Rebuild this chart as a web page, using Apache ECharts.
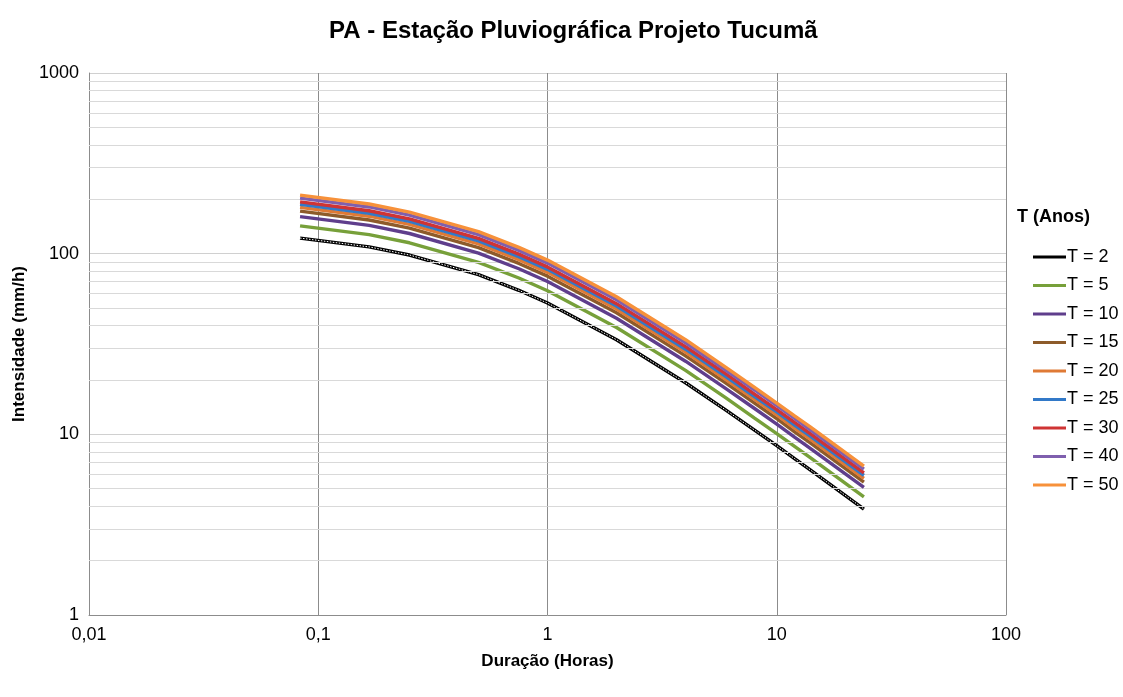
<!DOCTYPE html>
<html>
<head>
<meta charset="utf-8">
<script src="https://cdn.jsdelivr.net/npm/echarts@6/dist/echarts.min.js"></script>
<style>
html,body{margin:0;padding:0;background:#fff;}
#chart{width:1123px;height:697px;}
</style>
</head>
<body>
<div id="chart"></div>
<script>
// Durations (hours)
var durations = [0.0833, 0.1667, 0.25, 0.5, 0.75, 1, 2, 4, 6, 8, 10, 12, 14, 24];
// Intensities (mm/h) per return period
var T2  = [122.0, 109.0, 98.3, 76.6, 62.7, 53.3, 33.4, 19.3, 13.6, 10.56, 8.65, 7.32, 6.36, 3.86];
var T5  = [142.6, 127.4, 114.9, 89.5, 73.3, 62.3, 39.0, 22.6, 15.9, 12.3, 10.1, 8.56, 7.43, 4.51];
var T10 = [160.4, 143.3, 129.3, 100.7, 82.5, 70.1, 43.9, 25.4, 17.9, 13.9, 11.4, 9.63, 8.36, 5.08];
var T15 = [171.9, 153.6, 138.5, 107.9, 88.3, 75.1, 47.1, 27.2, 19.2, 14.9, 12.2, 10.3, 8.96, 5.44];
var T20 = [180.4, 161.2, 145.4, 113.3, 92.7, 78.8, 49.4, 28.5, 20.1, 15.6, 12.8, 10.8, 9.41, 5.71];
var T25 = [187.4, 167.4, 151.0, 117.7, 96.3, 81.9, 51.3, 29.6, 20.9, 16.2, 13.3, 11.2, 9.77, 5.93];
var T30 = [193.4, 172.8, 155.8, 121.4, 99.4, 84.5, 52.9, 30.6, 21.6, 16.7, 13.7, 11.6, 10.08, 6.12];
var T40 = [203.0, 181.4, 163.6, 127.5, 104.3, 88.7, 55.6, 32.1, 22.6, 17.6, 14.4, 12.2, 10.58, 6.42];
var T50 = [210.8, 188.4, 169.9, 132.4, 108.3, 92.1, 57.7, 33.4, 23.5, 18.2, 14.9, 12.6, 10.99, 6.67];
var seriesNames = ['T = 2', 'T = 5', 'T = 10', 'T = 15', 'T = 20', 'T = 25', 'T = 30', 'T = 40', 'T = 50'];
var seriesValues = [T2, T5, T10, T15, T20, T25, T30, T40, T50];
var seriesColors = ['#000000', '#77a03a', '#5f3e8c', '#8d5b2a', '#df7a35', '#3279c8', '#cf3434', '#7f5fae', '#f7913a'];
// Minor horizontal grid values (log axis)
var minorGridY = [2,3,4,5,6,7,8,9,20,30,40,50,60,70,80,90,200,300,400,500,600,700,800,900];

var FONT = 'Liberation Sans, Arial, sans-serif';
function pairs(vals){ return durations.map(function(d,i){ return [d, vals[i]]; }); }

var series = [];
series.push({
  name: '_grid', type: 'line', data: [], silent: true, z: 1,
  markLine: {
    silent: true, symbol: ['none','none'], label: {show:false},
    lineStyle: {color:'#d9d9d9', width:1, type:'solid'},
    animation: false,
    data: minorGridY.map(function(v){ return {yAxis: v}; })
  }
});
seriesNames.forEach(function(n, i){
  series.push({
    name: n, type: 'line', data: pairs(seriesValues[i]),
    showSymbol: false, symbol: 'none', z: 3 + i,
    lineStyle: {color: seriesColors[i], width: 3.4},
    itemStyle: {color: seriesColors[i]}
  });
  if (i === 0) {
    series.push({
      name: '_T2dots', type: 'line', data: pairs(seriesValues[0]),
      showSymbol: false, symbol: 'none', z: 3, silent: true,
      lineStyle: {color: '#ffffff', width: 1, type: [1.5, 1.5]}
    });
  }
});

var chart = echarts.init(document.getElementById('chart'), null, {renderer:'canvas'});
chart.setOption({
  animation: false,
  backgroundColor: '#ffffff',
  title: [{
    text: 'PA - Estação Pluviográfica Projeto Tucumã',
    left: 324, top: 14,
    textStyle: {fontFamily: FONT, fontWeight: 'bold', fontSize: 24, color: '#000'}
  },{
    text: 'T (Anos)', left: 1012, top: 203,
    textStyle: {fontFamily: FONT, fontWeight: 'bold', fontSize: 18, color: '#000'}
  }],
  legend: {
    data: seriesNames, orient: 'vertical', left: 1028, top: 243,
    itemWidth: 33, itemHeight: 3, itemGap: 10.5,
    icon: 'rect',
    textStyle: {fontFamily: FONT, fontSize: 18, color: '#000', padding: [0,0,0,-4]},
    selectedMode: false
  },
  grid: {left: 89, right: 117, top: 73, bottom: 82, containLabel: false},
  xAxis: {
    type: 'log', logBase: 10, min: 0.01, max: 100,
    name: 'Duração (Horas)', nameLocation: 'middle', nameGap: 38,
    nameTextStyle: {fontFamily: FONT, fontWeight: 'bold', fontSize: 17, color: '#000'},
    axisLine: {show: true, lineStyle: {color: '#8c8c8c', width: 1}},
    axisTick: {show: false},
    axisLabel: {
      fontFamily: FONT, fontSize: 18, color: '#000', margin: 11,
      formatter: function(v){ return String(+v.toPrecision(6)).replace('.', ','); }
    },
    splitLine: {show: true, lineStyle: {color: '#8c8c8c', width: 1}},
    minorTick: {show: false}, minorSplitLine: {show: false}
  },
  yAxis: {
    type: 'log', logBase: 10, min: 1, max: 1000,
    name: 'Intensidade (mm/h)', nameLocation: 'middle', nameGap: 58, nameRotate: 90,
    nameTextStyle: {fontFamily: FONT, fontWeight: 'bold', fontSize: 17, color: '#000'},
    axisLine: {show: true, lineStyle: {color: '#8c8c8c', width: 1}},
    axisTick: {show: false},
    axisLabel: {fontFamily: FONT, fontSize: 18, color: '#000', margin: 10,
      formatter: function(v){ return String(+v.toPrecision(6)); }
    },
    splitLine: {show: true, lineStyle: {color: '#d0d0d0', width: 1}},
    minorTick: {show: false}, minorSplitLine: {show: false}
  },
  series: series
});
</script>
</body>
</html>
